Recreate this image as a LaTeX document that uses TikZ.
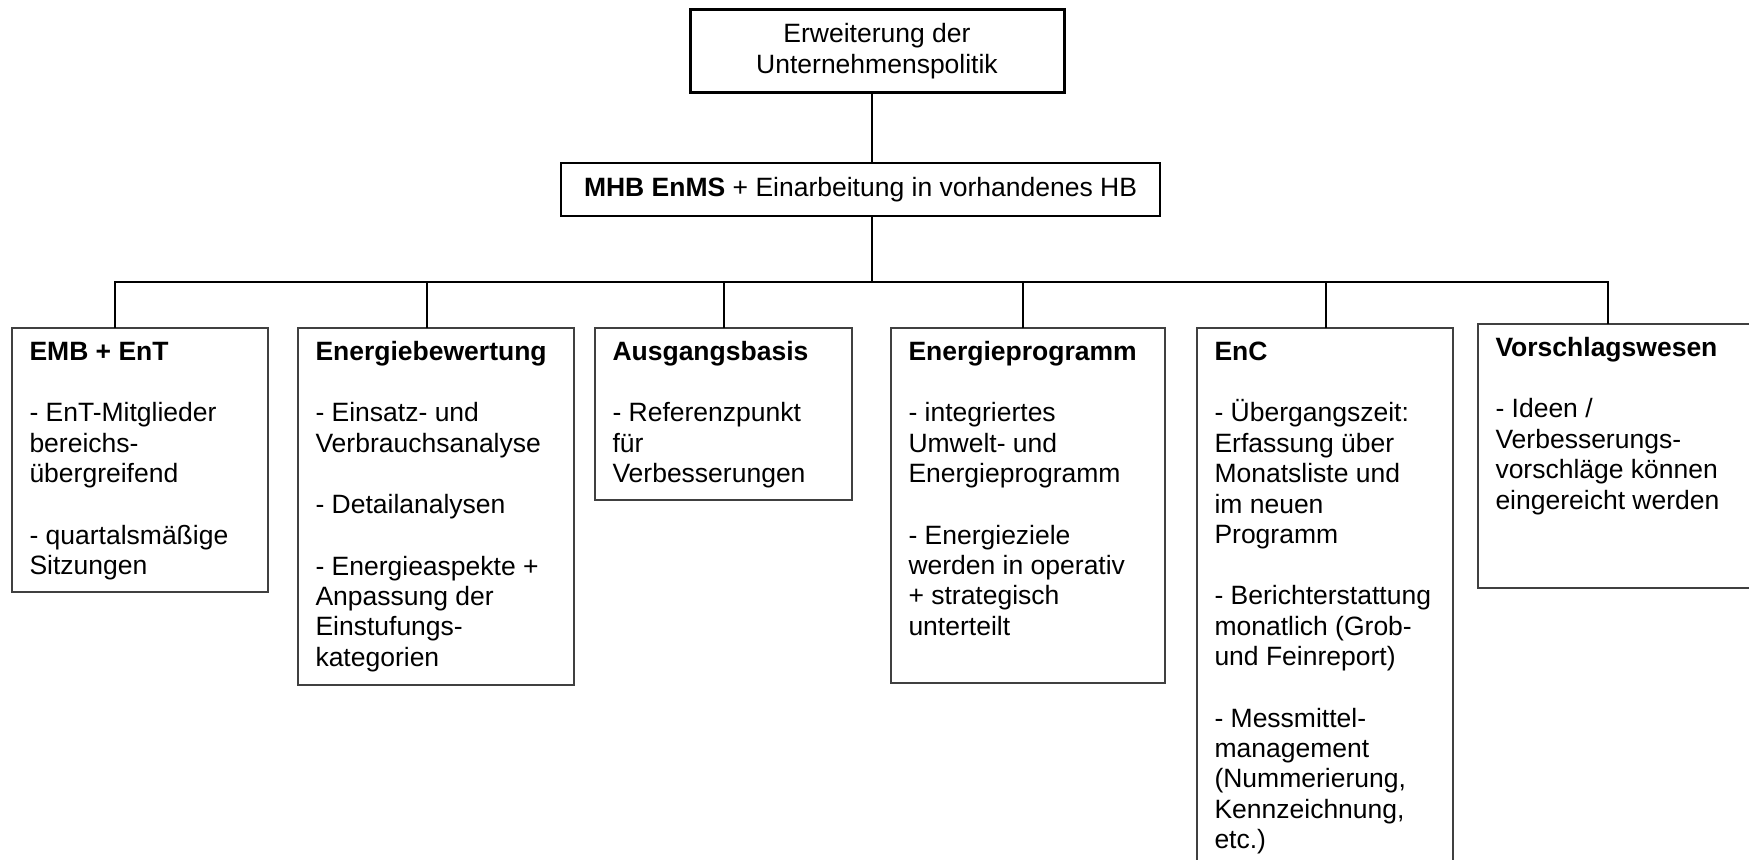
\documentclass[tikz,border=0pt]{standalone}
\usepackage{fontspec}
\setmainfont{Liberation Sans}
\usepackage{tikz}
\usetikzlibrary{positioning}
\newlength\pxu
\setlength\pxu{0.4pt}
% Kasteninhalt: Hoehe und Breite in px, dann der Text
\newcommand{\inhalt}[3]{\parbox[t][#1\pxu][t]{\dimexpr#2\pxu-14pt\relax}{\raggedright\rule{0pt}{13pt}#3}}
\newcommand{\leer}{\\[12.4pt]}

\begin{document}
\begin{tikzpicture}[
  x=0.4pt, y=-0.4pt,
  every node/.style={font=\fontsize{10.6}{12.16}\selectfont},
  kasten/.style={draw=black!75, line width=0.6pt, inner xsep=7pt, inner ysep=0pt,
                 outer sep=0pt, anchor=north west},
  linie/.style={line width=0.55pt}
]
  \clip (0,0) rectangle (1749,860);
  % Kopf
  \node[draw, line width=1.2pt, minimum width=149.6pt, minimum height=32.8pt, align=center] (top) at (877,51) {Erweiterung der\\Unternehmenspolitik};
  % Handbuch
  \node[draw, line width=0.8pt, minimum height=21.2pt, inner xsep=9.2pt, anchor=west] (mhb) at (560,189.5) {\textbf{MHB EnMS} + Einarbeitung in vorhandenes HB};
  \coordinate (stamm) at (872,282);

  % Bereiche
  \node[kasten] (emb) at (12,328) {\inhalt{264}{256}{\textbf{EMB + EnT}\leer - EnT-Mitglieder\\bereichs-\\übergreifend\leer - quartalsmäßige\\Sitzungen}};
  \node[kasten, right=12pt of emb.north east, anchor=north west] (bew) {\inhalt{357}{276}{\textbf{Energiebewertung}\leer - Einsatz- und\\Verbrauchsanalyse\leer - Detailanalysen\leer - Energieaspekte +\\Anpassung der\\Einstufungs-\\kategorien}};
  \node[kasten, right=8.4pt of bew.north east, anchor=north west] (basis) {\inhalt{172}{257}{\textbf{Ausgangsbasis}\leer - Referenzpunkt\\für\\Verbesserungen}};
  \node[kasten, right=15.6pt of basis.north east, anchor=north west] (prog) {\inhalt{355}{274}{\textbf{Energieprogramm}\leer - integriertes\\Umwelt- und\\Energieprogramm\leer - Energieziele\\werden in operativ\\+ strategisch\\unterteilt}};
  \node[kasten, right=12.8pt of prog.north east, anchor=north west] (enc) {\inhalt{560}{256}{\textbf{EnC}\leer - Übergangszeit:\\Erfassung über\\Monatsliste und\\im neuen\\Programm\leer - Berichterstattung\\monatlich (Grob-\\und Feinreport)\leer - Messmittel-\\management\\(Nummerierung,\\Kennzeichnung,\\etc.)}};
  \node[kasten, right=10pt of enc.north east, anchor=north west, yshift=1.6pt] (vor) {\inhalt{264}{282}{\textbf{Vorschlagswesen}\leer - Ideen /\\Verbesserungs-\\vorschläge können\\eingereicht werden}};

  \draw[linie] (stamm |- top.south) -- (stamm |- mhb.north);
  \draw[linie] (stamm |- mhb.south) -- (stamm);
  \draw[linie] ([xshift=41.2pt]emb.north west) |- (stamm);
  \draw[linie] ([xshift=51.6pt]bew.north west) |- (stamm);
  \draw[linie] ([xshift=51.6pt]basis.north west) |- (stamm);
  \draw[linie] ([xshift=52.8pt]prog.north west) |- (stamm);
  \draw[linie] ([xshift=51.6pt]enc.north west) |- (stamm);
  \draw[linie] ([xshift=52pt]vor.north west) |- (stamm);
\end{tikzpicture}
\end{document}
